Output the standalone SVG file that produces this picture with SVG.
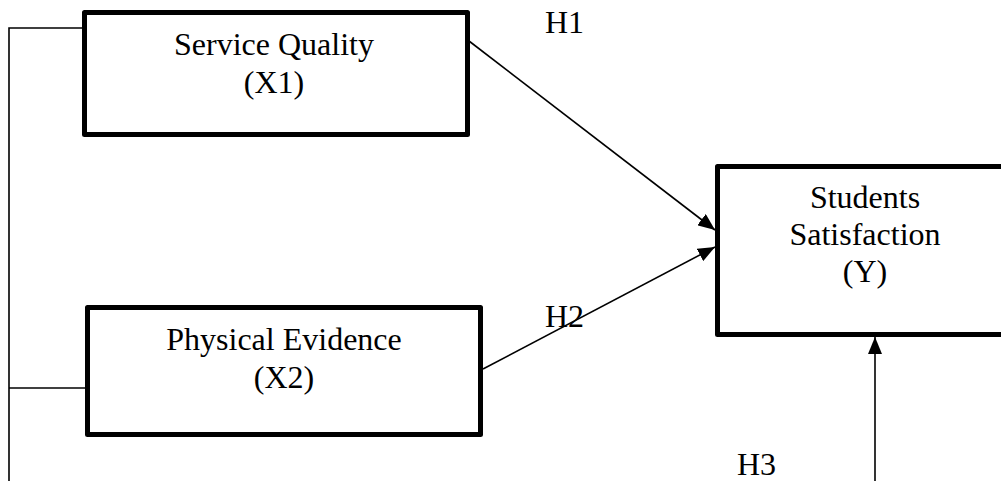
<svg xmlns="http://www.w3.org/2000/svg" width="1001" height="481" viewBox="0 0 1001 481">
<style>
.box{fill:#fff;stroke:#000;stroke-width:5;stroke-linejoin:round}
.t{font-family:"Liberation Serif","Times New Roman",serif;font-size:32px;fill:#000}
.c{text-anchor:middle}
.ln{fill:none;stroke:#000;stroke-width:1.6}
</style>
<defs>
<marker id="ah" markerUnits="userSpaceOnUse" markerWidth="18" markerHeight="14" refX="17" refY="7" orient="auto">
<path d="M0,0 L17,7 L0,14 Z" fill="#000"/>
</marker>
</defs>
<g id="connectors">
<path class="ln" d="M82,28 H9 V481"/>
<path class="ln" d="M86,388 H9"/>
<line class="ln" x1="469" y1="41" x2="715" y2="230" marker-end="url(#ah)"/>
<line class="ln" x1="483" y1="369" x2="715" y2="247" marker-end="url(#ah)"/>
<line class="ln" x1="875" y1="481" x2="875" y2="337" marker-end="url(#ah)"/>
</g>
<g id="x1">
<rect class="box" x="84.5" y="12.5" width="383" height="122"/>
<text class="t c" x="274" y="55">Service Quality</text>
<text class="t c" x="274" y="93">(X1)</text>
</g>
<g id="x2">
<rect class="box" x="87.5" y="307.5" width="393" height="127"/>
<text class="t c" x="284" y="350">Physical Evidence</text>
<text class="t c" x="284" y="388">(X2)</text>
</g>
<g id="y">
<rect class="box" x="717.5" y="166.5" width="400" height="168"/>
<text class="t c" x="865" y="208">Students</text>
<text class="t c" x="865" y="245">Satisfaction</text>
<text class="t c" x="865" y="282">(Y)</text>
</g>
<g id="labels">
<text class="t" x="545" y="33">H1</text>
<text class="t" x="545" y="327">H2</text>
<text class="t" x="737" y="475">H3</text>
</g>
</svg>
